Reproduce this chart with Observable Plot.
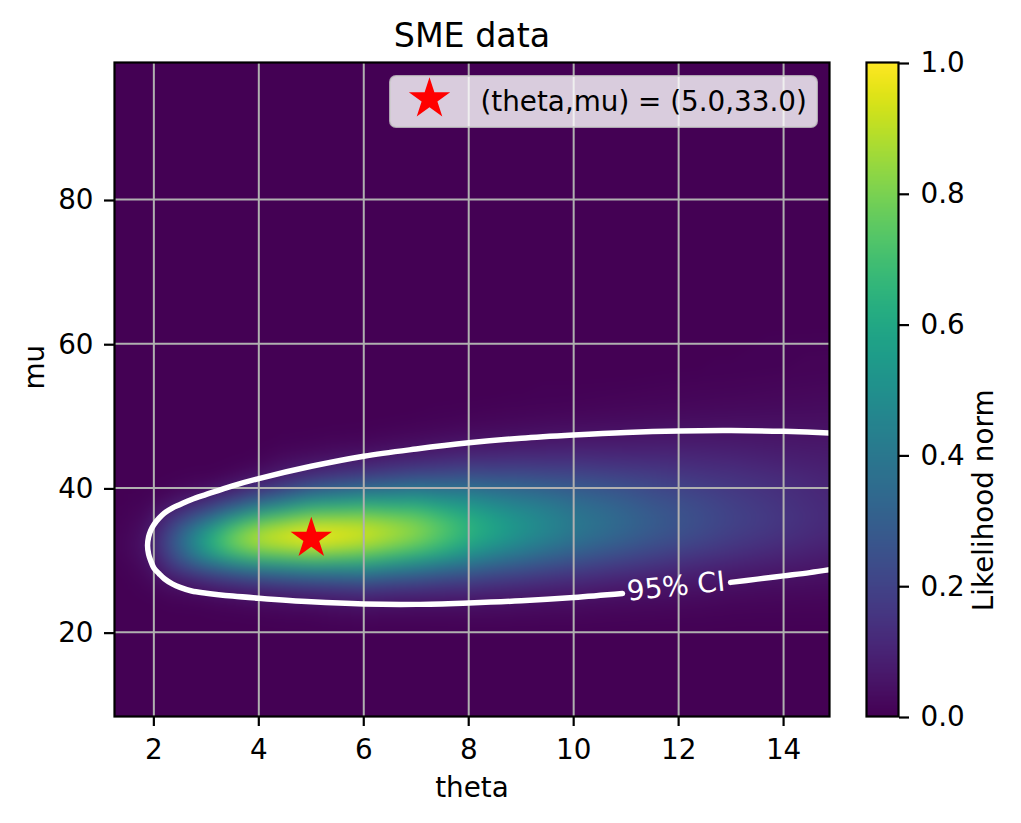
<!DOCTYPE html>
<html>
<head>
<meta charset="utf-8">
<script src="https://cdn.jsdelivr.net/npm/d3@7"></script>
<script src="https://cdn.jsdelivr.net/npm/@observablehq/plot@0.6"></script>
<style>
  body { margin: 0; background: #ffffff; }
  #wrap { position: relative; width: 1021px; height: 823px; font-family: "DejaVu Sans", sans-serif; }
  #wrap svg { position: absolute; top: 0; }
</style>
</head>
<body>
<div id="wrap"></div>
<script>
// ---- data ----
const chartTitle = "SME data";
const xLabel = "theta";
const yLabel = "mu";
const colorbarLabel = "Likelihood norm";
const legendLabel = "(theta,mu) = (5.0,33.0)";

const thetaTicks = [2, 4, 6, 8, 10, 12, 14];
const muTicks = [20, 40, 60, 80];
const colorbarTicks = [0, 0.2, 0.4, 0.6, 0.8, 1.0];

// sample grid of the normalised likelihood (rows = mu, columns = theta)
const thetaGrid = [1.25, 1.875, 2.25, 2.625, 3, 3.5, 4, 5, 6, 7, 8, 9, 10, 11.5, 13, 15];
const muGrid = [16, 18, 20, 22, 24, 26, 28, 30, 32, 34, 36, 38, 40, 42, 44, 46, 48, 50, 52, 56, 64];
const likelihood = [
  [0, 0,    0,     0,     0,     0,     0,     0,     0,     0,     0,     0,     0,     0,      0,      0],
  [0, 0,    0,     0,     0,     0,     0,     0,     0,     0,     0.001, 0.001, 0.001, 0.001,  0.001,  0.001],
  [0, 0,    0,     0,     0,     0,     0,     0.001, 0.003, 0.003, 0.004, 0.004, 0.004, 0.003,  0.002,  0.002],
  [0, 0,    0,     0.001, 0.001, 0.002, 0.004, 0.008, 0.015, 0.013, 0.015, 0.014, 0.012, 0.009,  0.006,  0.006],
  [0, 0,    0.005, 0.006, 0.009, 0.015, 0.022, 0.038, 0.056, 0.048, 0.047, 0.040, 0.034, 0.024,  0.016,  0.012],
  [0, 0.01, 0.026, 0.036, 0.050, 0.074, 0.099, 0.135, 0.163, 0.138, 0.120, 0.097, 0.080, 0.053,  0.035,  0.025],
  [0, 0.02, 0.083, 0.130, 0.187, 0.247, 0.290, 0.354, 0.370, 0.310, 0.250, 0.198, 0.154, 0.104,  0.069,  0.043],
  [0, 0.04, 0.168, 0.300, 0.430, 0.547, 0.615, 0.673, 0.648, 0.546, 0.430, 0.330, 0.254, 0.173,  0.114,  0.065],
  [0, 0.05, 0.220, 0.416, 0.610, 0.790, 0.890, 0.960, 0.885, 0.763, 0.590, 0.454, 0.350, 0.240,  0.161,  0.088],
  [0, 0.04, 0.184, 0.365, 0.547, 0.764, 0.893, 0.985, 0.944, 0.840, 0.660, 0.518, 0.405, 0.284,  0.193,  0.105],
  [0, 0.02, 0.099, 0.200, 0.313, 0.497, 0.645, 0.800, 0.814, 0.760, 0.620, 0.500, 0.400, 0.287,  0.199,  0.110],
  [0, 0.01, 0.034, 0.073, 0.116, 0.219, 0.335, 0.520, 0.576, 0.582, 0.510, 0.429, 0.356, 0.263,  0.188,  0.107],
  [0, 0,    0.007, 0.017, 0.027, 0.065, 0.126, 0.270, 0.336, 0.377, 0.365, 0.326, 0.285, 0.221,  0.165,  0.100],
  [0, 0,    0,     0.003, 0.004, 0.013, 0.034, 0.111, 0.160, 0.208, 0.226, 0.220, 0.205, 0.171,  0.136,  0.088],
  [0, 0,    0,     0,     0,     0.002, 0.007, 0.037, 0.063, 0.096, 0.124, 0.132, 0.133, 0.121,  0.104,  0.075],
  [0, 0,    0,     0,     0,     0,     0.001, 0.010, 0.020, 0.038, 0.059, 0.070, 0.078, 0.078,  0.074,  0.061],
  [0, 0,    0,     0,     0,     0,     0,     0.002, 0.005, 0.013, 0.024, 0.033, 0.041, 0.047,  0.050,  0.047],
  [0, 0,    0,     0,     0,     0,     0,     0,     0.001, 0.004, 0.009, 0.014, 0.019, 0.026,  0.031,  0.035],
  [0, 0,    0,     0,     0,     0,     0,     0,     0,     0.001, 0.003, 0.005, 0.008, 0.013,  0.018,  0.025],
  [0, 0,    0,     0,     0,     0,     0,     0,     0,     0,     0,     0.001, 0.001, 0.0025, 0.005,  0.011],
  [0, 0,    0,     0,     0,     0,     0,     0,     0,     0,     0,     0,     0,     0,      0,      0.001]
];

// 95% CI contour (two pieces around the label)
const ciTheta = [12.99, 13.5, 14, 14.5, 14.875,
  10.93, 10, 9, 8, 7, 6, 5, 4, 3.5, 3, 2.72, 2.5, 2.35, 2.2, 2.1, 2, 1.94, 1.9, 1.88,
  1.9, 1.94, 2, 2.1, 2.2, 2.35, 2.5, 2.72, 3, 3.5, 4, 5, 6, 7, 8, 9, 10, 11, 12, 13, 14, 14.875];
const ciMu = [26.9, 27.35, 27.8, 28.25, 28.65,
  25.35, 24.8, 24.35, 24.05, 23.85, 23.9, 24.2, 24.7, 25.0, 25.4, 25.7, 26.2, 26.7, 27.4, 28.1, 28.9, 29.9, 30.8, 32.0,
  33.2, 34.1, 34.9, 35.8, 36.5, 37.2, 37.7, 38.4, 39.1, 40.3, 41.3, 43.0, 44.4, 45.4, 46.25, 46.9, 47.35, 47.7, 47.9, 47.95, 47.85, 47.6];
const ciPart = ciTheta.map((t, i) => (i < 5 ? "a" : "b"));
const ciLabelText = ["95% CI"];
const ciLabelTheta = [11.95];
const ciLabelMu = [26.3];

const bestTheta = [5.0];
const bestMu = [33.0];

// ---- tables built from the arrays ----
const cells = muGrid.flatMap((mu, i) => thetaGrid.map((theta, j) => ({theta, mu, value: likelihood[i][j]})));
const ciContour = ciTheta.map((theta, i) => ({theta, mu: ciMu[i], part: ciPart[i]}));
const ciLabels = ciLabelText.map((text, i) => ({text, theta: ciLabelTheta[i], mu: ciLabelMu[i]}));
const bestFit = bestTheta.map((theta, i) => ({theta, mu: bestMu[i]}));

const FS = 27.8;
const FONT = "DejaVu Sans";

const legendBox = (index, scales, values, dims) => {
  const right = dims.width - dims.marginRight - 12;
  const w = 427, h = 51;
  return d3.create("svg:rect")
    .attr("x", right - w).attr("y", dims.marginTop + 14)
    .attr("width", w).attr("height", h).attr("rx", 6)
    .attr("fill", "white").attr("fill-opacity", 0.8)
    .attr("stroke", "#cccccc").attr("stroke-opacity", 0.8).attr("stroke-width", 2)
    .node();
};

const main = Plot.plot({
  width: 1021, height: 823,
  marginLeft: 114, marginRight: 192, marginTop: 62, marginBottom: 107,
  style: {fontFamily: FONT, fontSize: FS + "px", color: "black", background: "transparent", overflow: "visible"},
  x: {domain: [1.25, 14.875]},
  y: {domain: [8.3, 99]},
  color: {type: "linear", scheme: "viridis", domain: [0, 1]},
  marks: [
    Plot.frame({fill: d3.interpolateViridis(0), stroke: null}),
    Plot.raster(cells, {x: "theta", y: "mu", fill: "value", interpolate: "barycentric", blur: 8}),
    Plot.gridX(thetaTicks, {stroke: "#b0b0b0", strokeOpacity: 1, strokeWidth: 2}),
    Plot.gridY(muTicks, {stroke: "#b0b0b0", strokeOpacity: 1, strokeWidth: 2}),
    Plot.line(ciContour, {x: "theta", y: "mu", z: "part", stroke: "white", strokeWidth: 5.5, curve: "catmull-rom", clip: true}),
    Plot.text(ciLabels, {x: "theta", y: "mu", text: "text", rotate: -6, fill: "white", fontSize: FS, fontFamily: FONT}),
    Plot.dot(bestFit, {x: "theta", y: "mu", symbol: "star", r: 13, fill: "red", stroke: null}),
    legendBox,
    Plot.dot([legendLabel], {frameAnchor: "top-right", dx: -400, dy: 36.5, symbol: "star", r: 13, fill: "red", stroke: null}),
    Plot.text([legendLabel], {frameAnchor: "top-right", dx: -349, dy: 48, text: d => d, textAnchor: "start", lineAnchor: "bottom", fontSize: FS, fontFamily: FONT, fill: "black"}),
    Plot.axisX(thetaTicks, {tickSize: 10, tickPadding: 12.3, strokeWidth: 2.2, fontSize: FS, label: null}),
    Plot.axisY(muTicks, {tickSize: 10, tickPadding: 11, strokeWidth: 2.2, fontSize: FS, label: null, dy: 1}),
    Plot.frame({stroke: "black", strokeWidth: 2.2}),
    Plot.text([chartTitle], {frameAnchor: "top", dy: -16, text: d => d, lineAnchor: "bottom", fontSize: 33.3, fontFamily: FONT, fill: "black"}),
    Plot.text([xLabel], {frameAnchor: "bottom", dy: 80, text: d => d, lineAnchor: "bottom", fontSize: FS, fontFamily: FONT, fill: "black"}),
    Plot.text([yLabel], {frameAnchor: "left", dx: -79.6, text: d => d, rotate: -90, fontSize: FS, fontFamily: FONT, fill: "black"})
  ]
});

const cbar = Plot.plot({
  width: 191, height: 823,
  marginLeft: 36, marginRight: 123, marginTop: 62, marginBottom: 107,
  style: {fontFamily: FONT, fontSize: FS + "px", color: "black", background: "transparent", overflow: "visible"},
  x: {domain: [0, 1], axis: null},
  y: {domain: [0, 1], axis: null},
  color: {type: "linear", scheme: "viridis", domain: [0, 1]},
  marks: [
    Plot.raster({fill: (x, y) => y, x1: 0, x2: 1, y1: 0, y2: 1, width: 1, height: 256}),
    Plot.frame({stroke: "black", strokeWidth: 2.2}),
    Plot.axisY(colorbarTicks, {anchor: "right", tickSize: 10, tickPadding: 12, tickFormat: d3.format(".1f"), strokeWidth: 2.2, fontSize: FS, label: null, dy: 1}),
    Plot.text([colorbarLabel], {frameAnchor: "right", dx: 86, text: d => d, rotate: -90, fontSize: FS, fontFamily: FONT, fill: "black"})
  ]
});

const wrap = document.getElementById("wrap");
main.style.left = "0px";
cbar.style.left = "830px";
wrap.appendChild(main);
wrap.appendChild(cbar);
</script>
</body>
</html>
